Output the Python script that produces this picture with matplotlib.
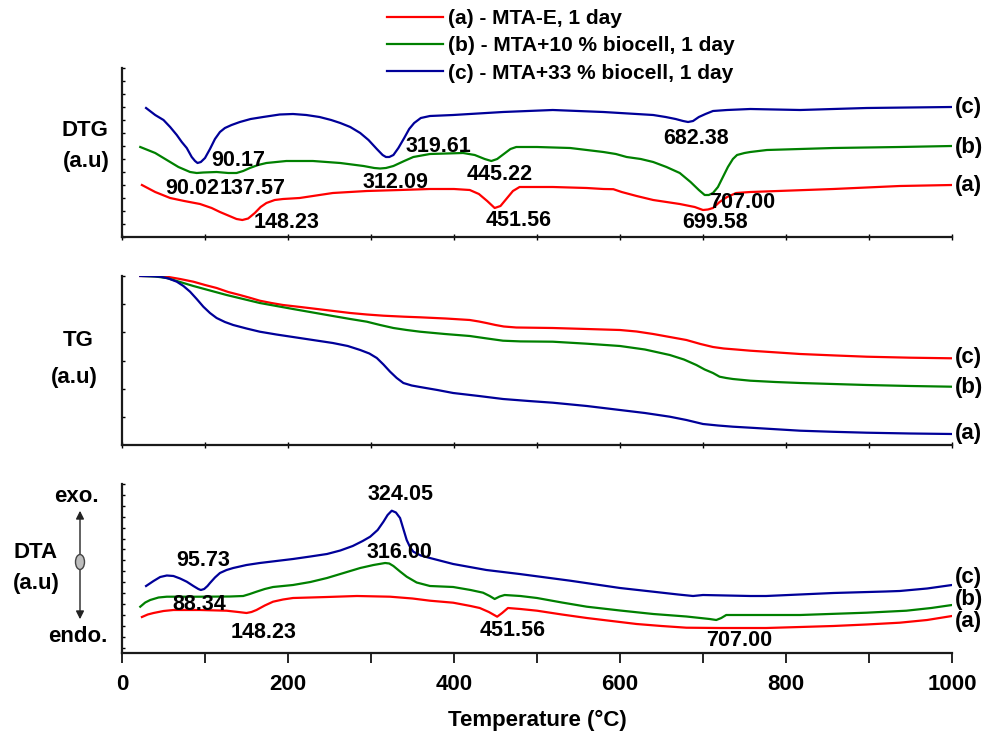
import numpy as np
import matplotlib
matplotlib.use("Agg")
import matplotlib.pyplot as plt
from matplotlib.patches import Ellipse, FancyArrowPatch

plt.rcParams['font.family'] = ['Liberation Sans', 'DejaVu Sans']
plt.rcParams['font.weight'] = 'bold'

# series colours: (a) MTA-E, (b) +10 % biocell, (c) +33 % biocell
c_a, c_b, c_c = '#ff0000', '#008000', '#000099'
legend_labels = ['(a) - MTA-E, 1 day', '(b) - MTA+10 % biocell, 1 day', '(c) - MTA+33 % biocell, 1 day']

## DTG (a.u), temperatures in degC
dtg_a_T = [24, 40, 58, 75, 94, 108, 118, 128, 138, 145, 152, 160, 167, 174, 184, 194, 214, 254, 295, 335,
           371, 400, 419, 430, 440, 449, 456, 463, 471, 479, 519, 560, 580, 592, 602, 620, 640, 672, 690, 700,
           706, 712, 720, 729, 740, 757, 857, 937, 1000]
dtg_a_v = [52, 45, 39, 36, 33, 29, 25, 21.5, 18, 17, 18.5, 24, 30, 34, 37, 38, 39, 44, 46, 47,
           48, 48, 47, 43, 36, 29, 31, 38, 46, 50, 50, 49, 48, 47.8, 45, 41, 37, 33, 30, 27,
           27.5, 29, 35, 40, 44, 45, 48, 51, 52]
dtg_b_T = [22, 40, 54, 68, 82, 90, 98, 114, 128, 138, 146, 154, 164, 174, 198, 230, 263, 291, 304, 311,
           318, 327, 340, 351, 371, 411, 425, 437, 445, 452, 460, 468, 475, 500, 540, 580, 595, 608, 625, 640,
           656, 672, 685, 695, 702, 707, 712, 718, 724, 730, 736, 741, 750, 757, 777, 857, 937, 1000]
dtg_b_v = [90, 84, 77, 70, 65, 64, 64.5, 65, 64, 64, 66, 69, 72, 74, 76, 76, 74, 71, 69, 68.5,
           69, 71, 76, 80, 83, 84, 82, 78, 76, 78, 83, 88, 90, 90, 89, 85, 83, 80, 78, 75,
           70, 64, 55, 47, 42, 42, 44, 50, 60, 70, 78, 82, 84, 85, 87, 89, 90, 91]
dtg_c_T = [29, 40, 50, 58, 66, 72, 78, 84, 88, 91, 95, 100, 106, 112, 118, 124, 132, 142, 155, 170,
           190, 206, 222, 238, 252, 263, 275, 287, 297, 307, 314, 318, 322, 327, 333, 340, 346, 352, 360, 371,
           399, 459, 519, 580, 640, 655, 667, 676, 682, 688, 695, 703, 712, 729, 757, 817, 897, 1000]
dtg_c_v = [129, 122, 117, 110, 102, 95, 89, 80, 76, 74, 75, 79, 88, 98, 105, 109, 112, 115, 118, 120,
           122.5, 123, 122, 120, 117, 114, 110, 104, 97, 88, 82, 80, 80, 82, 89, 99, 108, 114, 119, 121,
           122, 125, 127, 125, 122, 120, 118, 116, 115, 116, 120, 123, 126, 127, 128, 127, 129, 130]

## TG (a.u)
tg_a_T = [22, 40, 54, 70, 86, 100, 114, 128, 142, 155, 166, 180, 194, 215, 235, 255, 275, 295, 315, 340,
          359, 390, 419, 430, 439, 450, 460, 475, 519, 560, 600, 620, 640, 660, 680, 697, 712, 725, 740, 757,
          790, 817, 860, 897, 950, 1000]
tg_a_v = [169, 169, 168.3, 166, 163.3, 160, 157, 153, 150, 147, 144.3, 142, 140, 138, 136, 134, 132, 130.5, 129.3, 128.3,
          127.7, 126.5, 125, 123.5, 122, 120, 118.5, 117.5, 117, 116, 115, 113.5, 111, 108, 105, 101, 98, 96.5, 95.5, 94.3,
          92.5, 91, 89.5, 88.3, 87.3, 86.7]
tg_b_T = [25, 40, 54, 70, 86, 106, 126, 146, 166, 186, 206, 230, 254, 275, 295, 311, 327, 343, 359, 389,
          419, 440, 459, 480, 519, 560, 600, 630, 660, 677, 692, 702, 712, 720, 728, 736, 757, 787, 817, 857,
          897, 950, 1000]
tg_b_v = [169, 168.5, 167, 163, 159, 154.5, 150, 146, 142, 139, 136, 132.5, 129, 126, 123.3, 120, 117, 115, 113.3, 111,
          109, 106.5, 104.3, 103.6, 103.3, 101.3, 99, 95.5, 90, 85.5, 80, 75.5, 72, 68.3, 67, 66, 64.3, 63, 62, 61,
          60, 59, 58.3]
tg_c_T = [22, 35, 46, 56, 66, 74, 82, 90, 98, 106, 114, 124, 134, 150, 166, 186, 206, 230, 254, 272,
          287, 298, 307, 315, 323, 331, 339, 349, 359, 380, 399, 430, 459, 490, 519, 560, 600, 630, 660, 680,
          690, 700, 718, 736, 757, 787, 817, 857, 897, 950, 1000]
tg_c_v = [169, 168.8, 168.3, 166.5, 163.3, 159, 153.3, 146, 138.3, 132, 127, 123, 120, 116.5, 113.3, 110.5, 108, 105, 102, 99,
          95, 91.5, 87, 80.5, 73.3, 67, 62, 59.5, 58, 55, 52, 49, 46, 44, 42.3, 39, 35, 32, 28.3, 25,
          23, 21, 19.5, 18.3, 17.3, 15.8, 14.3, 13.2, 12.3, 11.5, 11]

## DTA (a.u)
dta_a_T = [24, 31, 38, 50, 62, 94, 126, 140, 150, 156, 162, 172, 182, 194, 206, 227, 247, 283, 323, 350,
           371, 399, 420, 431, 442, 452, 458, 465, 480, 500, 530, 560, 590, 620, 650, 680, 720, 757, 776, 817,
           857, 897, 937, 970, 1000]
dta_a_v = [36, 38.5, 40, 42, 43, 43, 42.3, 41, 40, 41, 43, 47.5, 51.3, 53.5, 55, 55.5, 56, 57, 56.3, 54.5,
           52.3, 50.3, 47, 45, 41, 36.3, 40, 45, 44, 42.3, 38.5, 35, 32, 29, 27, 25.3, 25, 25, 25, 26,
           27, 28.5, 30.3, 33, 37]
dta_b_T = [22, 28, 34, 44, 54, 94, 130, 146, 154, 162, 172, 182, 194, 206, 227, 247, 267, 287, 303, 317,
           322, 327, 335, 343, 355, 371, 399, 420, 435, 443, 449, 455, 461, 480, 500, 530, 560, 600, 640, 680,
           708, 716, 722, 728, 757, 817, 897, 945, 975, 1000]
dta_b_v = [46.3, 50.5, 53, 55.5, 56.3, 56.3, 56.5, 57, 59, 61.3, 64, 66, 67, 68, 71, 75, 80, 85, 88, 90,
           89.5, 87, 81.5, 76.3, 70.5, 67, 66, 63, 60.3, 57, 54, 56.5, 58, 57, 55, 50.5, 46.3, 42.5, 39, 36.5,
           34, 33, 35, 38, 38, 38, 40.3, 42.3, 45, 48]
dta_c_T = [29, 38, 46, 54, 62, 70, 78, 86, 92, 95, 99, 103, 106, 112, 118, 126, 134, 150, 166, 186,
           206, 227, 247, 263, 278, 290, 299, 308, 315, 320, 325, 330, 335, 339, 343, 347, 351, 360, 371, 399,
           439, 479, 540, 600, 640, 670, 688, 700, 757, 776, 857, 920, 937, 970, 1000]
dta_c_v = [67, 72, 76, 77.5, 77, 74.5, 71.3, 67, 64, 63, 64, 67, 70, 75.5, 80, 83, 85, 88, 90, 92,
           94, 96.5, 99, 102.5, 107, 112, 116.3, 123, 131.3, 138, 142.3, 140.5, 135, 124, 113, 106, 101.3, 97.5, 95, 89,
           83, 79, 72.3, 65, 61.3, 58.5, 57, 58, 57, 57, 60, 61.5, 62, 64.5, 68]

# peak labels (text, T, height)
dtg_peaks = [('90.17', 140, 77), ('90.02', 85, 49), ('137.57', 157, 49), ('148.23', 198, 15),
             ('312.09', 329, 55), ('319.61', 381, 90), ('445.22', 455, 62), ('451.56', 478, 17),
             ('682.38', 692, 99), ('707.00', 747, 35), ('699.58', 715, 15)]
dta_peaks = [('324.05', 336, 158), ('316.00', 334, 101), ('95.73', 98, 92), ('88.34', 93, 48),
             ('148.23', 171, 21), ('451.56', 471, 23), ('707.00', 743, 13)]
# curve tags at the right end (text, height)
dtg_tags = [('(c)', 130), ('(b)', 90), ('(a)', 52)]
tg_tags = [('(c)', 87), ('(b)', 58), ('(a)', 12)]
dta_tags = [('(c)', 75), ('(b)', 53), ('(a)', 31)]

W, H = 990, 738
fig = plt.figure(figsize=(9.9, 7.38), dpi=100)

def px_axes(top, bottom):
    # axes box from pixel rows
    return fig.add_axes([122 / W, 1 - bottom / H, 830 / W, (bottom - top) / H])

ax_dtg = px_axes(68, 237)
ax_tg = px_axes(276, 445)
ax_dta = px_axes(484, 653)

lw = 1.6
ax_dtg.plot(dtg_a_T, dtg_a_v, color=c_a, lw=lw, label=legend_labels[0])
ax_dtg.plot(dtg_b_T, dtg_b_v, color=c_b, lw=lw, label=legend_labels[1])
ax_dtg.plot(dtg_c_T, dtg_c_v, color=c_c, lw=lw, label=legend_labels[2])
ax_tg.plot(tg_a_T, tg_a_v, color=c_a, lw=lw)
ax_tg.plot(tg_b_T, tg_b_v, color=c_b, lw=lw)
ax_tg.plot(tg_c_T, tg_c_v, color=c_c, lw=lw)
ax_dta.plot(dta_a_T, dta_a_v, color=c_a, lw=lw)
ax_dta.plot(dta_b_T, dta_b_v, color=c_b, lw=lw)
ax_dta.plot(dta_c_T, dta_c_v, color=c_c, lw=lw)

ytick_steps = {ax_dtg: 13.0, ax_tg: 28.2, ax_dta: 10.9}
for ax in (ax_dtg, ax_tg, ax_dta):
    ax.set_xlim(0, 1000)
    ax.set_ylim(0, 169)
    for s in ('top', 'right'):
        ax.spines[s].set_visible(False)
    for s in ('left', 'bottom'):
        ax.spines[s].set_linewidth(1.6)
        ax.spines[s].set_color('#1a1a1a')
    step = ytick_steps[ax]
    ax.set_yticks(169 - step * np.arange(int(169 // step) + 1))
    ax.tick_params(axis='y', direction='in', length=2.5, width=1, labelleft=False)

for ax in (ax_dtg, ax_tg):
    ax.set_xticks(np.arange(0, 1001, 100))
    ax.tick_params(axis='x', direction='inout', length=4, width=1, labelbottom=False)

ax_dta.set_xticks(np.arange(0, 1001, 200))
ax_dta.set_xticks(np.arange(100, 1000, 200), minor=True)
ax_dta.tick_params(axis='x', which='both', direction='out', length=7, width=1.2, pad=8,
                   labelsize=16)

for t, x, y in dtg_peaks:
    ax_dtg.text(x, y, t, ha='center', va='center', fontsize=15.5, fontweight='bold')
for t, x, y in dta_peaks:
    ax_dta.text(x, y, t, ha='center', va='center', fontsize=15.5, fontweight='bold')
for ax, tags in ((ax_dtg, dtg_tags), (ax_tg, tg_tags), (ax_dta, dta_tags)):
    for t, y in tags:
        ax.text(1004, y, t, ha='left', va='center', fontsize=16, fontweight='bold', clip_on=False)

def ftext(x, y, s, **kw):
    fig.text(x / W, 1 - y / H, s, ha='center', va='center', fontsize=16, fontweight='bold', **kw)

ftext(85, 131, 'DTG')
ftext(86, 161, '(a.u)')
ftext(78, 340, 'TG')
ftext(74, 378, '(a.u)')
ftext(36, 553, 'DTA')
ftext(36, 583, '(a.u)')
ftext(76, 497, 'exo.')
ftext(78, 636, 'endo.')
ftext(537, 720, 'Temperature (°C)')

# exo / endo double arrow with the small marker in the middle
fig.add_artist(FancyArrowPatch((80 / W, 1 - 508 / H), (80 / W, 1 - 622 / H),
                               transform=fig.transFigure, arrowstyle='<|-|>',
                               mutation_scale=12, color='#222222', lw=1))
fig.add_artist(Ellipse((80 / W, 1 - 562 / H), 9 / W, 15 / H, transform=fig.transFigure,
                       facecolor='#bdbdbd', edgecolor='#444444', lw=1))

fig.legend(loc='upper left', bbox_to_anchor=(387 / W, 1 - 9 / H), frameon=False, fontsize=15,
           handlelength=2.7, handletextpad=0.25, labelspacing=0.4, borderpad=0, borderaxespad=0)

fig.savefig('out.png', dpi=100)
